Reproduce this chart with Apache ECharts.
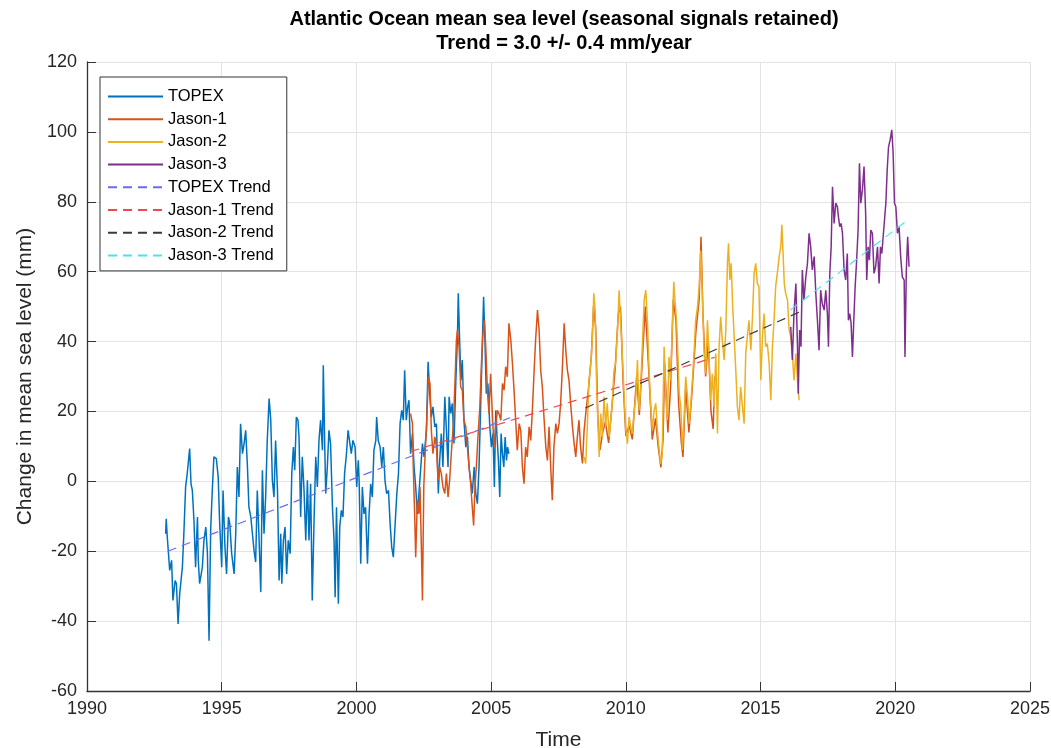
<!DOCTYPE html>
<html>
<head>
<meta charset="utf-8">
<script src="https://cdn.jsdelivr.net/npm/echarts@6/dist/echarts.min.js"></script>
<style>
  html, body { margin: 0; padding: 0; background: #fff; }
  #chart { width: 1051px; height: 748px; }
</style>
</head>
<body>
<div id="chart"></div>
<script>
// decimal years and mean sea level change (mm)
const topexYears = [
  1992.92, 1992.94, 1992.98, 1993.07, 1993.14, 1993.19, 1993.27, 1993.32, 1993.38, 1993.44,
  1993.54, 1993.60, 1993.66, 1993.72, 1993.81, 1993.86, 1993.91, 1993.97, 1994.03, 1994.10,
  1994.13, 1994.18, 1994.28, 1994.34, 1994.41, 1994.47, 1994.53, 1994.59, 1994.65, 1994.71,
  1994.80, 1994.87, 1994.92, 1995.00, 1995.05, 1995.12, 1995.18, 1995.25, 1995.30, 1995.37,
  1995.46, 1995.52, 1995.58, 1995.64, 1995.70, 1995.77, 1995.83, 1995.89, 1995.95,
  1996.01, 1996.08, 1996.14, 1996.20, 1996.26, 1996.32, 1996.38, 1996.45, 1996.51, 1996.57,
  1996.63, 1996.69, 1996.76, 1996.82, 1996.88, 1996.94, 1997.00, 1997.07, 1997.13, 1997.19,
  1997.23, 1997.29, 1997.35, 1997.41, 1997.47, 1997.54, 1997.60, 1997.66, 1997.71, 1997.77,
  1997.83, 1997.87, 1997.93, 1997.99, 1998.05, 1998.12, 1998.18, 1998.24, 1998.30, 1998.36,
  1998.43, 1998.49, 1998.55, 1998.61, 1998.67, 1998.74, 1998.77, 1998.82, 1998.86, 1998.92,
  1998.98, 1999.04, 1999.11, 1999.17, 1999.21, 1999.26, 1999.33, 1999.38, 1999.44, 1999.50,
  1999.56, 1999.63, 1999.69, 1999.75, 1999.81, 1999.87, 1999.95, 2000.01, 2000.07,
  2000.10, 2000.16, 2000.22, 2000.28, 2000.34, 2000.41, 2000.47, 2000.53, 2000.59, 2000.65,
  2000.72, 2000.75, 2000.81, 2000.88, 2000.94, 2001.00, 2001.06, 2001.12, 2001.19, 2001.25,
  2001.31, 2001.37, 2001.43, 2001.50, 2001.56, 2001.62, 2001.68, 2001.74, 2001.79, 2001.85,
  2001.90, 2001.95, 2002.01, 2002.08, 2002.14, 2002.20, 2002.26, 2002.32, 2002.39, 2002.45,
  2002.51, 2002.60, 2002.66, 2002.72, 2002.78, 2002.84, 2002.91, 2002.97, 2003.04, 2003.09,
  2003.15, 2003.21, 2003.28, 2003.34, 2003.40, 2003.44, 2003.50, 2003.56, 2003.62, 2003.69,
  2003.75, 2003.78, 2003.83, 2003.88, 2003.93, 2003.99, 2004.06, 2004.12, 2004.18, 2004.24,
  2004.30, 2004.37, 2004.43, 2004.49, 2004.55, 2004.61, 2004.67, 2004.72, 2004.77, 2004.82,
  2004.88, 2004.95, 2005.01, 2005.07, 2005.12, 2005.17, 2005.22, 2005.27, 2005.32, 2005.37,
  2005.42, 2005.47, 2005.52, 2005.57, 2005.61, 2005.66
];
const topexMm = [
  -15.0, -10.7, -16.0, -25.5, -22.6, -34.1, -28.4, -29.3, -40.8, -32.2,
  -24.6, -14.0, -1.6, 2.2, 9.4, -0.7, -2.6, -11.2, -24.6, -10.2,
  -22.6, -29.3, -24.6, -16.9, -13.1, -20.7, -45.6, -14.0, -2.6, 7.0,
  6.5, 1.2, -11.2, -24.6, -2.6, -18.8, -26.5, -10.2, -12.1, -20.7,
  -26.5, -15.0, 4.1, -4.5, 16.5, 7.9, 10.8, 14.6, 5.1,
  -7.4, -10.2, -15.0, -19.8, -23.1, -2.6, -15.0, -31.7, 3.2, -15.0,
  -4.5, 11.7, 23.7, 17.5, 0.3, -4.5, 11.7, -2.6, -28.4, -15.0,
  -29.3, -16.9, -13.1, -26.5, -16.9, -20.7, 2.2, 9.8, 3.2, 18.4,
  17.5, 12.7, -10.2, 7.0, -1.6, -16.9, 0.3, -16.9, -0.7, -34.1,
  -10.2, 7.0, -1.6, 11.7, 17.5, 8.9, 33.2, 11.7, -3.5, 4.1,
  14.6, 10.8, -7.4, -16.9, -33.2, -7.4, -35.0, -13.1, -8.3, -10.2,
  2.2, 7.9, 14.6, 15.1, 7.9, 11.7, 9.8, -1.6, 6.0,
  0.3, -23.6, -1.6, -9.3, -7.4, -23.6, -9.3, -0.7, -4.5, 8.9,
  11.7, 18.4, 11.7, 9.8, 4.1, 9.8, 0.3, -3.5, -2.6, -12.1,
  -18.8, -21.7, -13.1, -3.5, 2.2, 16.5, 20.3, 17.5, 31.8, 17.5,
  21.3, 23.2, 7.9, 13.7, 4.1, -1.6, -9.3, -3.5, 4.1, 10.8,
  7.0, 14.6, 34.2, 25.1, 18.4, 21.3, 15.6, 16.5, -3.5, 6.0,
  13.7, 4.1, 24.2, 14.6, 4.1, 24.2, 19.4, 22.3, 10.8, 28.9,
  41.4, 53.8, 40.4, 28.9, 34.7, 17.5, 9.8, 12.7, 4.1, 0.3,
  -3.5, 4.1, -3.5, -6.4, 4.1, 21.3, 38.5, 52.8, 40.4, 25.1,
  28.0, 15.6, 9.8, 13.7, -1.6, 20.3, 12.7, 6.0, -4.5, 13.7,
  7.9, 4.1, 12.7, 6.0, 9.8, 7.9
];

const jason1Years = [
  2002.01, 2002.08, 2002.11, 2002.16, 2002.20, 2002.26, 2002.32, 2002.36, 2002.41, 2002.45,
  2002.50, 2002.55, 2002.61, 2002.67, 2002.73, 2002.78, 2002.84, 2002.91, 2002.97, 2003.03,
  2003.09, 2003.15, 2003.21, 2003.28, 2003.34, 2003.40, 2003.46, 2003.52, 2003.60, 2003.66,
  2003.71, 2003.75, 2003.81, 2003.87, 2003.93, 2003.99, 2004.06, 2004.12, 2004.18, 2004.24,
  2004.30, 2004.35, 2004.40, 2004.45, 2004.51, 2004.58, 2004.64, 2004.69, 2004.75, 2004.80,
  2004.86, 2004.92, 2004.98, 2005.05, 2005.11, 2005.17, 2005.23, 2005.29, 2005.36, 2005.42,
  2005.48, 2005.54, 2005.60, 2005.66, 2005.73, 2005.79, 2005.85, 2005.91, 2005.97, 2006.04,
  2006.10, 2006.16, 2006.22, 2006.28, 2006.34, 2006.41, 2006.47, 2006.53, 2006.59, 2006.65,
  2006.72, 2006.78, 2006.84, 2006.90, 2006.96, 2007.03, 2007.09, 2007.15, 2007.21, 2007.27,
  2007.33, 2007.40, 2007.46, 2007.52, 2007.58, 2007.64, 2007.71, 2007.77, 2007.83, 2007.89,
  2007.95, 2008.02, 2008.08, 2008.14, 2008.20, 2008.26, 2008.32, 2008.39, 2008.45,
  2008.52, 2008.62, 2008.72, 2008.80, 2008.88, 2008.96, 2009.04, 2009.14, 2009.24, 2009.36,
  2009.48, 2009.60, 2009.72, 2009.80, 2009.90, 2010.00, 2010.12, 2010.24, 2010.40, 2010.50,
  2010.62, 2010.72, 2010.84, 2010.98, 2011.10, 2011.20, 2011.30, 2011.38, 2011.44, 2011.56,
  2011.66, 2011.76, 2011.86, 2011.96, 2012.06, 2012.12, 2012.22, 2012.34, 2012.46, 2012.60,
  2012.72, 2012.79, 2012.86, 2012.96, 2013.06, 2013.16, 2013.24, 2013.30
];
const jason1Mm = [
  19.4, 16.5, 4.1, -9.3, -21.7, -5.4, -9.3, -1.6, -18.8, -34.1,
  -1.6, 7.9, 17.5, 29.9, 28.0, 14.6, 7.9, 12.7, 9.8, 0.3,
  4.1, 2.2, -1.6, -3.5, 2.2, -4.5, 0.3, 7.9, 16.5, 28.9,
  40.4, 43.3, 38.5, 27.0, 26.1, 17.5, 15.6, 9.8, 4.1, -0.7,
  -7.4, -12.6, -1.6, 4.1, 12.7, 21.3, 33.7, 41.4, 46.1, 38.5,
  26.1, 19.4, 30.8, 18.4, 9.8, 15.6, 20.3, 19.4, 17.5, 28.0,
  26.1, 32.8, 29.9, 45.2, 40.4, 33.7, 26.1, 17.5, 8.9, 16.5,
  14.6, 4.1, -0.7, 9.8, 7.0, 15.6, 11.7, 20.3, 30.8, 40.4,
  49.0, 43.3, 31.8, 27.0, 18.4, 9.8, 6.0, 15.6, 4.1, -5.4,
  9.8, 16.5, 13.7, 16.5, 22.3, 31.8, 45.2, 37.5, 31.8, 28.9,
  22.3, 15.6, 10.8, 7.0, 12.7, 17.5, 9.8, 5.1, 14.6,
  20, 27, 36, 50, 44, 18, 9, 14, 17, 11,
  21, 32, 48, 50, 28, 13, 16, 12, 30, 19,
  36, 50, 33, 12, 18, 10, 4, 12, 34, 14,
  27, 52, 46, 22, 11, 7, 27, 14, 26, 43,
  52, 70, 48, 30, 40, 20, 15, 30
];

const jason2Years = [
  2008.45, 2008.51, 2008.57, 2008.63, 2008.70, 2008.76, 2008.81, 2008.86, 2008.91, 2008.96,
  2009.01, 2009.07, 2009.13, 2009.19, 2009.25, 2009.31, 2009.38, 2009.44, 2009.50, 2009.56,
  2009.62, 2009.69, 2009.75, 2009.80, 2009.85, 2009.90, 2009.95, 2010.00, 2010.06, 2010.12,
  2010.18, 2010.24, 2010.30, 2010.37, 2010.43, 2010.49, 2010.55, 2010.61, 2010.68, 2010.74,
  2010.80, 2010.86, 2010.92, 2010.98, 2011.05, 2011.11, 2011.17, 2011.23,
  2011.29, 2011.35, 2011.42, 2011.48, 2011.54, 2011.60, 2011.66, 2011.73, 2011.78, 2011.83,
  2011.88, 2011.93, 2011.98, 2012.04, 2012.10, 2012.16, 2012.22, 2012.28, 2012.35, 2012.41,
  2012.47, 2012.53, 2012.59, 2012.66, 2012.72, 2012.78, 2012.84, 2012.90, 2012.96, 2013.03,
  2013.09, 2013.15, 2013.21, 2013.27, 2013.34, 2013.40, 2013.46, 2013.52, 2013.58, 2013.65,
  2013.71, 2013.77, 2013.81, 2013.86, 2013.91, 2013.96, 2014.02, 2014.08, 2014.14, 2014.20,
  2014.26, 2014.33, 2014.39, 2014.45, 2014.51, 2014.57, 2014.64, 2014.70, 2014.76, 2014.82,
  2014.88, 2014.94,
  2015.01, 2015.07, 2015.13, 2015.19, 2015.25, 2015.32, 2015.38, 2015.44, 2015.50, 2015.56,
  2015.62, 2015.69, 2015.75, 2015.79, 2015.84, 2015.88, 2015.93, 2016.00, 2016.06, 2016.12,
  2016.18, 2016.24, 2016.31, 2016.37, 2016.43
];
const jason2Mm = [
  7.0, 5.1, 15.6, 28.9, 33.7, 41.4, 53.8, 49.0, 28.9, 17.5,
  7.0, 19.4, 12.7, 24.2, 15.6, 22.3, 12.7, 17.5, 23.2, 31.8,
  33.7, 43.3, 54.7, 46.1, 39.4, 30.8, 22.3, 14.6, 10.8, 18.4,
  15.6, 13.7, 19.4, 24.2, 34.7, 20.3, 27.0, 38.5, 51.9, 54.7,
  46.1, 31.8, 22.3, 14.6, 20.3, 22.3, 14.6, 9.8,
  5.0, 8.0, 38.5, 25.1, 17.5, 35.6, 28.9, 46.1, 57.1, 50.9,
  46.1, 36.6, 25.1, 21.3, 9.0, 17.5, 29.9, 25.1, 16.5, 22.3,
  28.9, 36.6, 46.1, 49.9, 55.7, 66.0, 53.8, 37.5, 30.8, 46.1,
  34.7, 23.2, 30.8, 21.3, 36.6, 13.7, 38.5, 47.1, 40.4, 34.7,
  43.3, 62.4, 68.1, 57.6, 62.4, 50.9, 41.4, 31.8, 21.3, 17.5,
  27.0, 21.3, 16.5, 36.6, 41.4, 46.1, 37.5, 47.1, 59.5, 62.4,
  56.6, 55.7,
  28.9, 41.4, 48.0, 38.5, 39.4, 33.7, 23.2, 38.5, 46.1, 55.7,
  59.5, 64.3, 67.1, 73.4, 64.3, 56.6, 53.8, 51.9, 43.3, 41.4,
  36.6, 28.9, 36.6, 28.9, 23.2
];

const jason3Years = [
  2016.12, 2016.18, 2016.24, 2016.31, 2016.37, 2016.40, 2016.45, 2016.50, 2016.55, 2016.61,
  2016.68, 2016.74, 2016.80, 2016.86, 2016.92, 2016.99, 2017.05, 2017.11, 2017.17, 2017.23,
  2017.29, 2017.36, 2017.42, 2017.48, 2017.52, 2017.57, 2017.62, 2017.67, 2017.73, 2017.79,
  2017.85, 2017.89, 2017.94, 2017.99, 2018.04, 2018.10, 2018.16, 2018.22, 2018.26, 2018.31,
  2018.36, 2018.41, 2018.46, 2018.51, 2018.56, 2018.62, 2018.67, 2018.72, 2018.78, 2018.84,
  2018.90, 2018.94, 2018.99, 2019.04, 2019.09, 2019.15, 2019.21, 2019.27, 2019.34, 2019.40,
  2019.45, 2019.50, 2019.55, 2019.60, 2019.65, 2019.70, 2019.75, 2019.81, 2019.87, 2019.92,
  2019.97, 2020.02, 2020.08, 2020.14, 2020.20, 2020.26, 2020.33, 2020.36, 2020.41, 2020.46,
  2020.51
];
const jason3Mm = [
  44.2, 34.7, 48.0, 56.6, 38.5, 25.1, 43.3, 38.5, 60.5, 51.9,
  58.5, 62.4, 71.0, 67.1, 60.5, 64.3, 53.8, 46.1, 37.5, 54.7,
  50.9, 49.0, 54.7, 48.0, 38.5, 59.5, 67.1, 84.3, 73.8, 79.6,
  78.6, 75.7, 72.9, 73.8, 71.0, 60.5, 57.6, 65.2, 46.1, 48.0,
  45.2, 35.6, 46.1, 55.7, 62.4, 71.9, 91.0, 79.6, 83.4, 90.1,
  76.7, 57.6, 67.1, 63.3, 71.9, 71.0, 59.5, 61.4, 67.1, 56.6,
  67.1, 65.2, 70.0, 74.8, 79.6, 89.1, 95.8, 97.7, 100.6, 93.9,
  79.6, 78.6, 71.0, 72.9, 64.3, 58.5, 57.6, 35.6, 60.5, 70.0,
  61.4
];

// trend end points
const topexTrendYears = [1993.0, 2005.7];
const topexTrendMm = [-20.0, 18.2];
const jason1TrendYears = [2002.0, 2013.3];
const jason1TrendMm = [8.5, 35.5];
const jason2TrendYears = [2008.5, 2016.6];
const jason2TrendMm = [21.0, 49.0];
const jason3TrendYears = [2016.1, 2020.5];
const jason3TrendMm = [49.0, 75.0];

const legendNames = ['TOPEX', 'Jason-1', 'Jason-2', 'Jason-3', 'TOPEX Trend', 'Jason-1 Trend', 'Jason-2 Trend', 'Jason-3 Trend'];

const pairs = (xs, ys) => xs.map((x, i) => [x, ys[i]])

const chart = echarts.init(document.getElementById('chart'))

const dataLine = (name, xs, ys, color) => ({
  name,
  type: 'line',
  data: pairs(xs, ys),
  symbol: 'none',
  lineStyle: { color, width: 1.5 },
  itemStyle: { color },
  animation: false,
})

const trendLine = (name, xs, ys, color) => ({
  name,
  type: 'line',
  data: pairs(xs, ys),
  symbol: 'none',
  lineStyle: { color, width: 1.2, type: [9, 6] },
  itemStyle: { color },
  animation: false,
})

const textColor = '#262626'
const font = 'Liberation Sans, Arial, sans-serif'

chart.setOption({
  backgroundColor: '#fff',
  title: {
    text: 'Atlantic Ocean mean sea level (seasonal signals retained)\nTrend = 3.0 +/- 0.4 mm/year',
    left: 559,
    top: 2,
    textAlign: 'center',
    textStyle: { fontFamily: font, fontSize: 20, fontWeight: 'bold', color: '#000', lineHeight: 24 },
  },
  legend: {
    orient: 'vertical',
    left: 100,
    top: 77,
    itemWidth: 55,
    itemHeight: 14,
    itemGap: 5.7,
    padding: [11, 13, 7, 7],
    borderColor: '#333',
    borderWidth: 1,
    backgroundColor: '#fff',
    itemStyle: { opacity: 0 },
    textStyle: { fontFamily: font, fontSize: 16.5, color: '#000' },
    data: legendNames,
  },
  grid: { left: 87, right: 21, top: 62, bottom: 57, containLabel: false, outerBoundsMode: 'none' },
  xAxis: {
    type: 'value',
    min: 1990,
    max: 2025,
    interval: 5,
    name: 'Time',
    nameLocation: 'middle',
    nameGap: 39,
    nameTextStyle: { fontFamily: font, fontSize: 21, color: textColor },
    axisLine: { onZero: false, lineStyle: { color: '#333', width: 1.3 } },
    axisTick: { inside: true, length: 9, lineStyle: { color: '#333' } },
    axisLabel: { fontFamily: font, fontSize: 18, color: textColor, margin: 9, formatter: (v) => String(v) },
    splitLine: { show: true, lineStyle: { color: '#e3e3e3' } },
  },
  yAxis: {
    type: 'value',
    min: -60,
    max: 120,
    interval: 20,
    name: 'Change in mean sea level (mm)',
    nameLocation: 'middle',
    nameGap: 50,
    nameTextStyle: { fontFamily: font, fontSize: 21, color: textColor },
    axisLine: { show: true, lineStyle: { color: '#333', width: 1.3 } },
    axisTick: { show: true, inside: true, length: 9, lineStyle: { color: '#333' } },
    axisLabel: { fontFamily: font, fontSize: 18, color: textColor, margin: 10 },
    splitLine: { show: true, lineStyle: { color: '#e3e3e3' } },
  },
  series: [
    dataLine('TOPEX', topexYears, topexMm, '#0072BD'),
    dataLine('Jason-1', jason1Years, jason1Mm, '#D95319'),
    dataLine('Jason-2', jason2Years, jason2Mm, '#EDB120'),
    dataLine('Jason-3', jason3Years, jason3Mm, '#7E2F8E'),
    trendLine('TOPEX Trend', topexTrendYears, topexTrendMm, '#6b6bf0'),
    trendLine('Jason-1 Trend', jason1TrendYears, jason1TrendMm, '#f0484d'),
    trendLine('Jason-2 Trend', jason2TrendYears, jason2TrendMm, '#3a3a3a'),
    trendLine('Jason-3 Trend', jason3TrendYears, jason3TrendMm, '#4fe0ee'),
  ],
})
</script>
</body>
</html>
